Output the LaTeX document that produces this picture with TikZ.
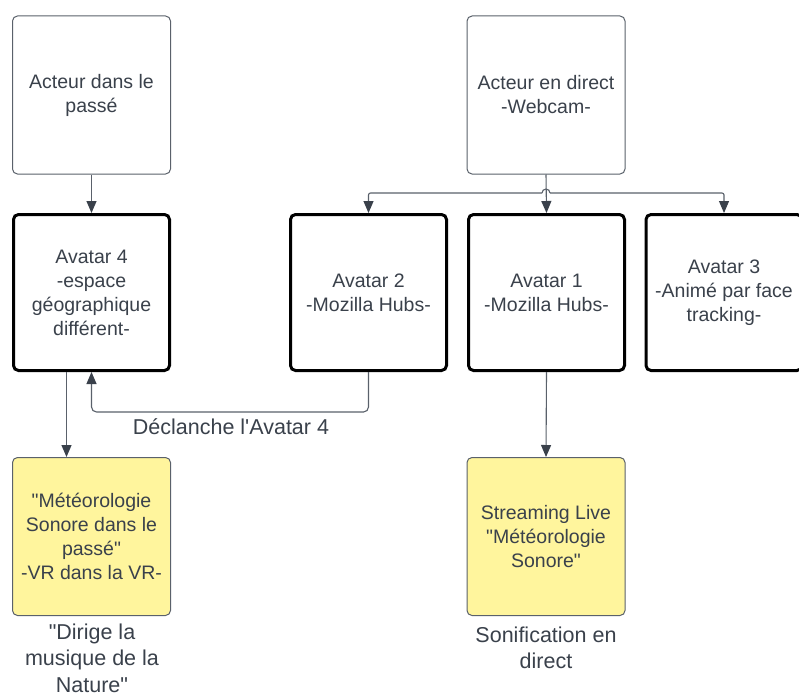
\documentclass[tikz,border=0pt]{standalone}
\usepackage{fontspec}
\setmainfont{Liberation Sans}[Ligatures=TeXOff]
\usetikzlibrary{arrows.meta}
\definecolor{txt}{HTML}{3A414B}
\definecolor{thinb}{HTML}{5A616B}
\definecolor{yel}{HTML}{FFF59D}
\tikzset{
  boxtext/.style={font=\fontsize{19.5}{24}\selectfont, text=txt, align=center},
  thinbox/.style={boxtext, draw=thinb, line width=1pt, rounded corners=5pt, minimum width=158pt, minimum height=158pt, inner sep=0pt},
  thickbox/.style={boxtext, draw=black, line width=3pt, rounded corners=5pt, minimum width=156pt, minimum height=156pt, inner sep=0pt},
  yelbox/.style={thinbox, fill=yel},
  lbl/.style={font=\fontsize{21.5}{26.5}\selectfont, text=txt, align=center, inner sep=0pt},
  conn/.style={draw=thinb, line width=1.1pt, -{Triangle[length=12pt,width=10pt,color=txt]}},
  plain/.style={draw=thinb, line width=1.1pt}
}
\begin{document}
\begin{tikzpicture}[x=1pt,y=-1pt]
\clip (0,0) rectangle (799,693);
\fill[white] (0,0) rectangle (799,693);
% top boxes
\node[thinbox] (pa) at (91.5,95) {Acteur dans le\\passé};
\node[thinbox] (web) at (546,95) {Acteur en direct\\-Webcam-};
% avatars
\node[thickbox] (av4) at (91.5,292.5) {Avatar 4\\-espace\\géographique\\différent-};
\node[thickbox] (av2) at (368.5,292.5) {Avatar 2\\-Mozilla Hubs-};
\node[thickbox] (av1) at (546.5,292.5) {Avatar 1\\-Mozilla Hubs-};
\node[thickbox] (av3) at (724,292.5) {Avatar 3\\-Animé par face\\tracking-};
% yellow boxes
\node[yelbox] (y1) at (91.5,536.5) {"Météorologie\\Sonore dans le\\passé"\\-VR dans la VR-};
\node[yelbox] (y2) at (546,536.5) {Streaming Live\\"Météorologie\\Sonore"};
% labels
\node[lbl] (l1) at (231,427) {Déclanche l'Avatar 4};
\node[lbl] (l2) at (92,658) {"Dirige la\\musique de la\\Nature"};
\node[lbl] (l3) at (546,648) {Sonification en\\direct};
% connectors
\draw[conn] (pa.south) -- (av4.north);
\draw[conn] (web.south) -- (av1.north);
\coordinate (j) at (546,193);
\coordinate (jl) at (542,193);
\coordinate (jr) at (550,193);
\draw[plain] (jl) arc[start angle=180, end angle=0, radius=4pt];
\draw[conn, rounded corners=2pt] (jl) -| (av2.north);
\draw[conn, rounded corners=2pt] (jr) -| (av3.north);
\draw[conn] ([xshift=-25pt]av4.south) -- ([xshift=-25pt]y1.north);
\draw[conn, rounded corners=5pt] (av2.south) -- ++(0,40) -| (av4.south);
\draw[conn] (av1.south) -- (y2.north);
\end{tikzpicture}
\end{document}
